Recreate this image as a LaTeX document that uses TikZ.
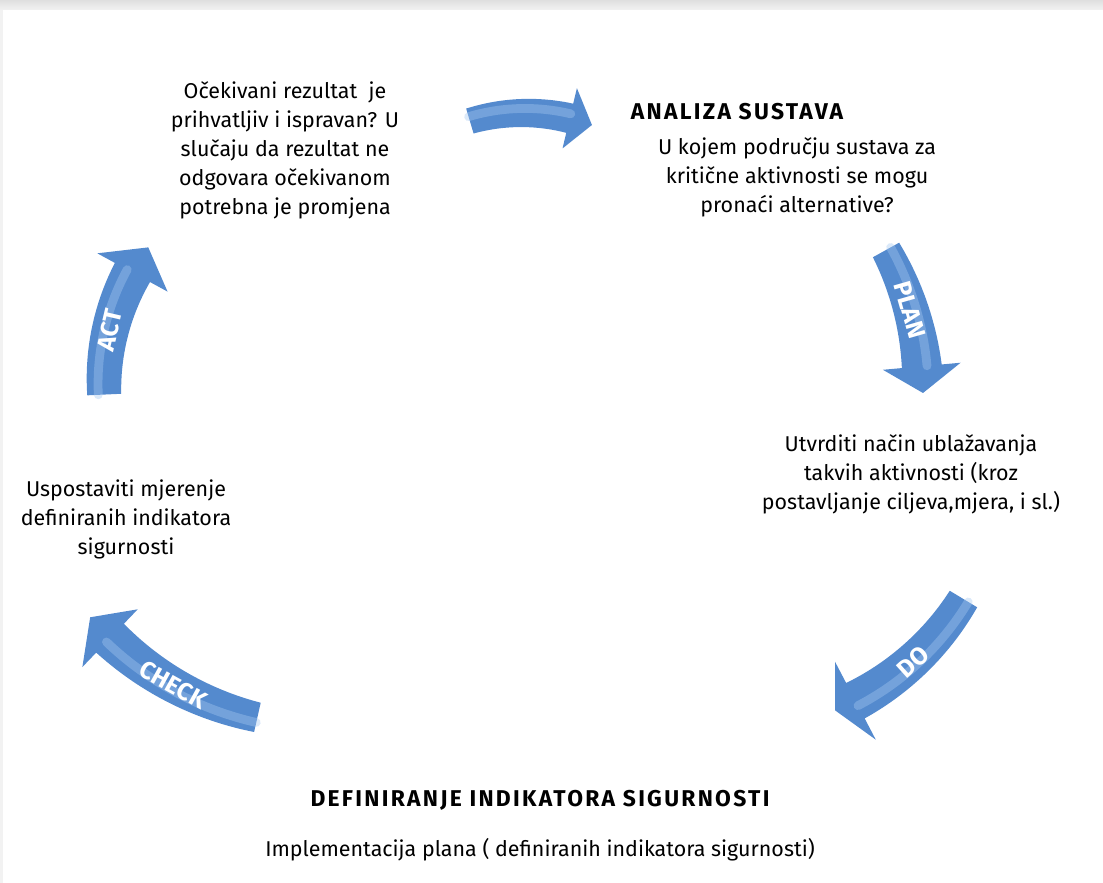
\documentclass[tikz,border=0pt]{standalone}
\usepackage{fontspec}
\setmainfont{Fira Sans}
\newfontfamily\headfont[LetterSpace=10]{Fira Sans}
\usetikzlibrary{positioning}
\definecolor{cyclebody}{RGB}{84,138,206}
\definecolor{cycleshine}{RGB}{165,200,240}

% centre, radius, tail angle, base of head angle, tip angle, half width at tail, half width at head, half width of head
\newcommand\cyclearrow[8]{%
	\begin{scope}[shift={#1}]
		\fill[cyclebody] plot[domain=#3:#4, samples=40] (\x:{#2+#6+(#7-#6)*(\x-(#3))/((#4)-(#3))})
		-- (#4:{#2+#8}) -- (#5:#2) -- (#4:{#2-#8})
		-- plot[domain=#4:#3, samples=40] (\x:{#2-#6-(#7-#6)*(\x-(#3))/((#4)-(#3))}) -- cycle;
		\draw[cycleshine, line width=5pt, opacity=.4] plot[domain=#3:#4, samples=40] (\x:{#2+0.35*#6});
	\end{scope}}

\begin{document}
\begin{tikzpicture}[x=0.02cm, y=0.02cm, line join=round, line cap=round,
	txt/.style={align=center, font=\fontsize{12.2}{16.5}\selectfont},
	head/.style={font=\fontsize{13}{15}\headfont\bfseries},
	tag/.style={white, font=\fontsize{14}{14}\selectfont\bfseries}]
	\useasboundingbox (0,0) rectangle (1103,883);
	\fill[top color=gray!25, bottom color=gray!10] (0,873) rectangle (1103,883);
	\fill[gray!10] (0,0) rectangle (3,873);
	% the five arrows of the cycle
	\cyclearrow{(525,577)}{193}{106.6}{76.6}{69.7}{13}{15}{31}
	\cyclearrow{(628,490)}{295}{29}{5.2}{0}{15}{20}{39}
	\cyclearrow{(728,426)}{275}{-31.1}{-62.4}{-67.1}{16}{20}{44}
	\cyclearrow{(326,470)}{312}{-102.7}{-133.8}{-139.1}{15}{20}{40}
	\cyclearrow{(337,499)}{233}{182.6}{151.4}{144.1}{17}{20}{40}
	\node[tag, rotate=-74] (plan) at (910,573) {PLAN};
	\node[tag, rotate=42] (do) at (913,221) {DO};
	\node[tag, rotate=-29] (check) at (173,198) {CHECK};
	\node[tag, rotate=77] (act) at (110,553) {ACT};
	% texts
	\node[head] (analiza) at (737,771) {ANALIZA SUSTAVA};
	\node[txt] (plantxt) at (797,706) {U kojem području sustava za\\kritične aktivnosti se mogu\\pronaći alternative?};
	\node[txt] (dotxt) at (911,409) {Utvrditi način ublažavanja\\takvih aktivnosti (kroz\\postavljanje ciljeva,mjera, i sl.)};
	\node[txt] (checktxt) at (126,364) {Uspostaviti mjerenje\\definiranih indikatora\\sigurnosti};
	\node[txt] (acttxt) at (285,733) {Očekivani rezultat\ \ je\\prihvatljiv i ispravan? U\\slučaju da rezultat ne\\odgovara očekivanom\\potrebna je promjena};
	\node[head] (definiranje) at (540,83) {DEFINIRANJE INDIKATORA SIGURNOSTI};
	\node[txt, below=16 of definiranje] (impl) {Implementacija plana ( definiranih indikatora sigurnosti)};
\end{tikzpicture}
\end{document}
